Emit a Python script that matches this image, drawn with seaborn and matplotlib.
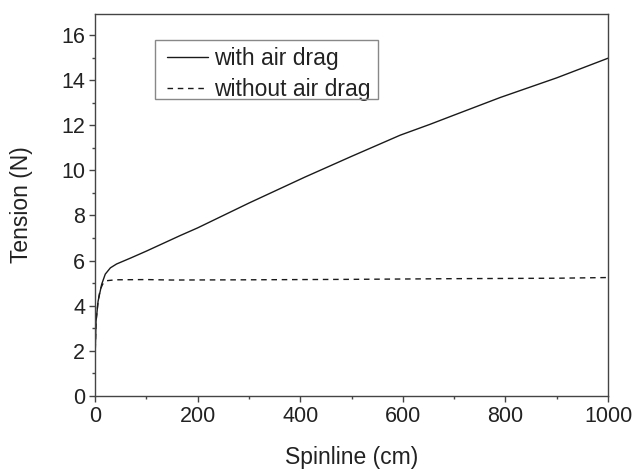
import numpy as np
import pandas as pd
import matplotlib
matplotlib.use("Agg")
import matplotlib.pyplot as plt
from matplotlib.ticker import MultipleLocator
from matplotlib.patches import Rectangle
import seaborn as sns

# Data
x_drag = [0, 2, 6, 13, 20, 30, 42, 70, 100, 166, 200, 300, 409, 500, 595, 653, 700, 790, 900, 1000]
y_drag = [1.6, 3.3, 4.2, 4.95, 5.4, 5.68, 5.85, 6.12, 6.42, 7.11, 7.45, 8.55, 9.7, 10.62, 11.56, 12.04, 12.45, 13.23, 14.1, 14.97]

x_nodrag = [0, 2, 6, 10, 15, 23, 40, 100, 150, 300, 500, 700, 900, 1000]
y_nodrag = [1.6, 3.3, 4.2, 4.7, 4.96, 5.11, 5.15, 5.16, 5.14, 5.15, 5.17, 5.2, 5.22, 5.25]

labels = ["with air drag", "without air drag"]

df = pd.concat([
    pd.DataFrame({"x": x_drag, "y": y_drag, "series": labels[0]}),
    pd.DataFrame({"x": x_nodrag, "y": y_nodrag, "series": labels[1]}),
])

sns.set_style("ticks")
plt.rcParams["font.family"] = ["Liberation Sans", "DejaVu Sans"]
text_c = "#222222"
axis_c = "#444444"
fs_tick = 15.5
fs_lab = 16.5

fig = plt.figure(figsize=(6.36, 4.70), dpi=100)
ax = fig.add_axes([95/636, 74/470, 513/636, 382/470])

sns.lineplot(data=df, x="x", y="y", hue="series", style="series",
             palette={labels[0]: "#1a1a1a", labels[1]: "#1a1a1a"},
             dashes={labels[0]: "", labels[1]: (4, 3.4)},
             linewidth=1.0, sort=False, estimator=None, ax=ax, legend=True)

ax.set_xlim(0, 1000)
ax.set_ylim(0, 16.93)
ax.xaxis.set_major_locator(MultipleLocator(200))
ax.xaxis.set_minor_locator(MultipleLocator(100))
ax.yaxis.set_major_locator(MultipleLocator(2))
ax.yaxis.set_minor_locator(MultipleLocator(1))
ax.tick_params(axis="both", which="major", direction="out", length=4, width=1,
               labelsize=fs_tick, colors=axis_c, labelcolor=text_c, pad=3,
               top=False, right=False)
ax.tick_params(axis="both", which="minor", direction="out", length=2.5, width=1,
               colors=axis_c, top=False, right=False)
for s in ax.spines.values():
    s.set_color(axis_c)
    s.set_linewidth(1.0)
    s.set_visible(True)

ax.set_xlabel("Spinline (cm)", fontsize=fs_lab, color=text_c, labelpad=14)
ax.set_ylabel("Tension (N)", fontsize=fs_lab, color=text_c, labelpad=20)

handles, lbls = ax.get_legend_handles_labels()
leg = ax.legend(handles, lbls, loc="upper left", bbox_to_anchor=(0.140, 0.914),
                borderaxespad=0, fontsize=fs_lab, frameon=False,
                handlelength=1.8, handletextpad=0.26, labelspacing=0.35,
                borderpad=0.0)
for t in leg.get_texts():
    t.set_color(text_c)

# legend frame box
fig.patches.append(Rectangle((155/636, (470-99)/470), 223/636, 59/470,
                             transform=fig.transFigure, fill=False,
                             edgecolor="#888888", linewidth=1.0, zorder=5))

fig.savefig("out.png", dpi=100, facecolor="white")
